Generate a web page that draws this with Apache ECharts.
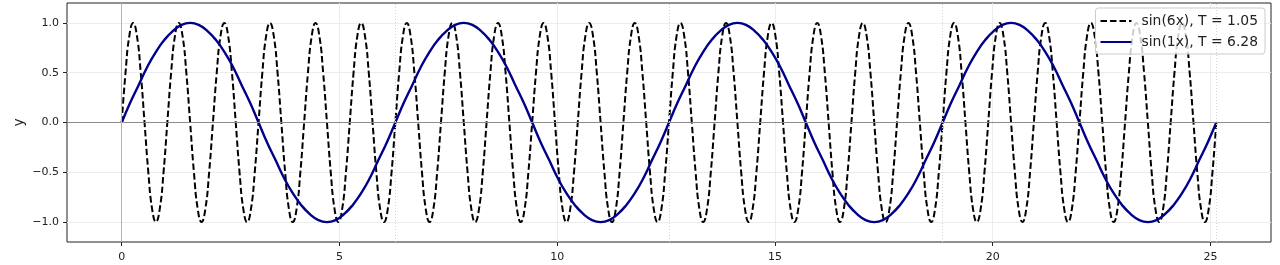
<!DOCTYPE html>
<html>
<head>
<meta charset="utf-8">
<script src="https://cdn.jsdelivr.net/npm/echarts@6/dist/echarts.min.js"></script>
<style>
html,body{margin:0;padding:0;background:#fff;}
#chart{width:1280px;height:265px;}
</style>
</head>
<body>
<div id="chart"></div>
<script>
// ---- data ----
const seriesNames = ['sin(6x), T = 1.05', 'sin(1x), T = 6.28'];

// fast wave: samples every 0.08727 (1/12 of its 1.05 period), starting at x = 0
const fastStep = 0.0872665;
const fastValues = [
  0, 0.5, 0.87, 1, 0.87, 0.5, 0, -0.5, -0.87, -1, -0.87, -0.5,
  0, 0.5, 0.87, 1, 0.87, 0.5, 0, -0.5, -0.87, -1, -0.87, -0.5,
  0, 0.5, 0.87, 1, 0.87, 0.5, 0, -0.5, -0.87, -1, -0.87, -0.5,
  0, 0.5, 0.87, 1, 0.87, 0.5, 0, -0.5, -0.87, -1, -0.87, -0.5,
  0, 0.5, 0.87, 1, 0.87, 0.5, 0, -0.5, -0.87, -1, -0.87, -0.5,
  0, 0.5, 0.87, 1, 0.87, 0.5, 0, -0.5, -0.87, -1, -0.87, -0.5,
  0, 0.5, 0.87, 1, 0.87, 0.5, 0, -0.5, -0.87, -1, -0.87, -0.5,
  0, 0.5, 0.87, 1, 0.87, 0.5, 0, -0.5, -0.87, -1, -0.87, -0.5,
  0, 0.5, 0.87, 1, 0.87, 0.5, 0, -0.5, -0.87, -1, -0.87, -0.5,
  0, 0.5, 0.87, 1, 0.87, 0.5, 0, -0.5, -0.87, -1, -0.87, -0.5,
  0, 0.5, 0.87, 1, 0.87, 0.5, 0, -0.5, -0.87, -1, -0.87, -0.5,
  0, 0.5, 0.87, 1, 0.87, 0.5, 0, -0.5, -0.87, -1, -0.87, -0.5,
  0, 0.5, 0.87, 1, 0.87, 0.5, 0, -0.5, -0.87, -1, -0.87, -0.5,
  0, 0.5, 0.87, 1, 0.87, 0.5, 0, -0.5, -0.87, -1, -0.87, -0.5,
  0, 0.5, 0.87, 1, 0.87, 0.5, 0, -0.5, -0.87, -1, -0.87, -0.5,
  0, 0.5, 0.87, 1, 0.87, 0.5, 0, -0.5, -0.87, -1, -0.87, -0.5,
  0, 0.5, 0.87, 1, 0.87, 0.5, 0, -0.5, -0.87, -1, -0.87, -0.5,
  0, 0.5, 0.87, 1, 0.87, 0.5, 0, -0.5, -0.87, -1, -0.87, -0.5,
  0, 0.5, 0.87, 1, 0.87, 0.5, 0, -0.5, -0.87, -1, -0.87, -0.5,
  0, 0.5, 0.87, 1, 0.87, 0.5, 0, -0.5, -0.87, -1, -0.87, -0.5,
  0, 0.5, 0.87, 1, 0.87, 0.5, 0, -0.5, -0.87, -1, -0.87, -0.5,
  0, 0.5, 0.87, 1, 0.87, 0.5, 0, -0.5, -0.87, -1, -0.87, -0.5,
  0, 0.5, 0.87, 1, 0.87, 0.5, 0, -0.5, -0.87, -1, -0.87, -0.5,
  0, 0.5, 0.87, 1, 0.87, 0.5, 0, -0.5, -0.87, -1, -0.87, -0.5,
  0
];

// slow wave: samples every 0.19635 (1/32 of its 6.28 period), starting at x = 0
const slowStep = 0.1963495;
const slowValues = [
  0, 0.2, 0.38, 0.56, 0.71, 0.83, 0.92, 0.98, 1, 0.98, 0.92, 0.83, 0.71, 0.56, 0.38, 0.2,
  0, -0.2, -0.38, -0.56, -0.71, -0.83, -0.92, -0.98, -1, -0.98, -0.92, -0.83, -0.71, -0.56, -0.38, -0.2,
  0, 0.2, 0.38, 0.56, 0.71, 0.83, 0.92, 0.98, 1, 0.98, 0.92, 0.83, 0.71, 0.56, 0.38, 0.2,
  0, -0.2, -0.38, -0.56, -0.71, -0.83, -0.92, -0.98, -1, -0.98, -0.92, -0.83, -0.71, -0.56, -0.38, -0.2,
  0, 0.2, 0.38, 0.56, 0.71, 0.83, 0.92, 0.98, 1, 0.98, 0.92, 0.83, 0.71, 0.56, 0.38, 0.2,
  0, -0.2, -0.38, -0.56, -0.71, -0.83, -0.92, -0.98, -1, -0.98, -0.92, -0.83, -0.71, -0.56, -0.38, -0.2,
  0, 0.2, 0.38, 0.56, 0.71, 0.83, 0.92, 0.98, 1, 0.98, 0.92, 0.83, 0.71, 0.56, 0.38, 0.2,
  0, -0.2, -0.38, -0.56, -0.71, -0.83, -0.92, -0.98, -1, -0.98, -0.92, -0.83, -0.71, -0.56, -0.38, -0.2,
  0
];

// period markers (dotted verticals) and tick labels
const periodMarks = [6.2832, 12.5664, 18.8496, 25.1327];
const xTicks = [0, 5, 10, 15, 20, 25];
const yTicks = [-1, -0.5, 0, 0.5, 1];
const xRange = [-1.2566, 26.3894];
const yRange = [-1.2, 1.2];

// ---- build ----
const fastData = fastValues.map((v, i) => [i * fastStep, v]);
const slowData = slowValues.map((v, i) => [i * slowStep, v]);

const FONT = 'DejaVu Sans';
const chart = echarts.init(document.getElementById('chart'), null, {renderer: 'canvas'});

const refLines = [
  {yAxis: 0, lineStyle: {color: '#8c8c8c', width: 1, type: 'solid'}},
  {xAxis: 0, lineStyle: {color: '#b4b4b4', width: 1, type: 'solid'}}
].concat(periodMarks.map(x => ({xAxis: x, lineStyle: {color: '#d2d2d2', width: 1, type: [1, 2]}})));

chart.setOption({
  animation: false,
  textStyle: {fontFamily: FONT},
  grid: {
    left: 67, top: 3, width: 1204, height: 239,
    show: true, borderColor: '#222', borderWidth: 1, backgroundColor: 'transparent'
  },
  legend: {
    data: seriesNames,
    orient: 'vertical',
    right: 15, top: 8,
    itemWidth: 31, itemHeight: 14, itemGap: 7,
    padding: [6, 7, 5, 4],
    backgroundColor: 'rgba(255,255,255,0.8)',
    borderColor: '#cccccc', borderWidth: 1, borderRadius: 3,
    itemStyle: {opacity: 0},
    textStyle: {fontFamily: FONT, fontSize: 13.9, color: '#222', lineHeight: 14, padding: [0, 0, 0, 5]}
  },
  xAxis: {
    type: 'value',
    min: xRange[0], max: xRange[1],
    axisLine: {show: false, onZero: false},
    axisTick: {show: true, inside: false, length: 4, lineStyle: {color: '#222', width: 1}, customValues: xTicks},
    axisLabel: {fontFamily: FONT, fontSize: 11, color: '#222', margin: 10, customValues: xTicks,
      formatter: v => String(v)},
    splitLine: {show: true, lineStyle: {color: '#ececec', width: 1}}
  },
  yAxis: {
    type: 'value',
    min: yRange[0], max: yRange[1],
    name: 'y', nameLocation: 'middle', nameGap: 41, nameRotate: 90, nameMoveOverlap: false,
    nameTextStyle: {fontFamily: FONT, fontSize: 13.9, color: '#222'},
    axisLine: {show: false, onZero: false},
    axisTick: {show: true, inside: false, length: 4, lineStyle: {color: '#222', width: 1}, customValues: yTicks},
    axisLabel: {fontFamily: FONT, fontSize: 11, color: '#222', margin: 8, customValues: yTicks,
      formatter: v => v.toFixed(1).replace('-', '\u2212')},
    splitLine: {show: true, lineStyle: {color: '#ececec', width: 1}}
  },
  series: [
    {
      name: 'refs', type: 'line', data: [], z: 1, silent: true,
      markLine: {silent: true, symbol: ['none', 'none'], label: {show: false}, animation: false, data: refLines}
    },
    {
      name: seriesNames[0], type: 'line', data: fastData, z: 2,
      smooth: 0.5, symbol: 'none', showSymbol: false,
      lineStyle: {color: '#000', width: 2, type: [6.5, 3]},
      itemStyle: {color: '#000'}
    },
    {
      name: seriesNames[1], type: 'line', data: slowData, z: 3,
      smooth: 0.5, symbol: 'none', showSymbol: false,
      lineStyle: {color: '#00008b', width: 2.4},
      itemStyle: {color: '#00008b'}
    }
  ]
});
</script>
</body>
</html>
